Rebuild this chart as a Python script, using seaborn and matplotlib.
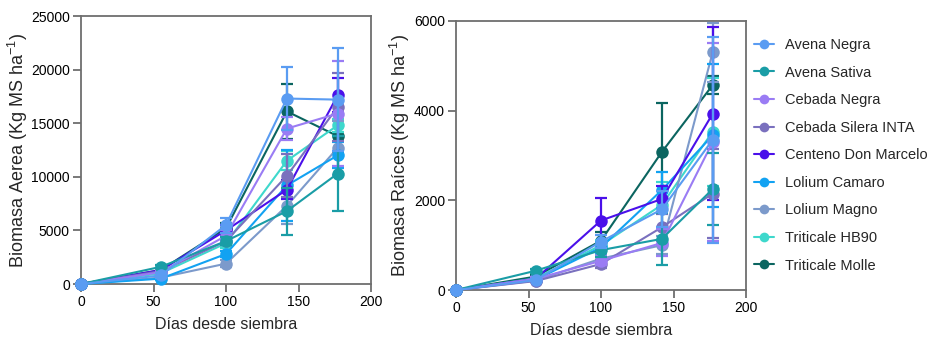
import numpy as np
import pandas as pd
import matplotlib
matplotlib.use("Agg")
import matplotlib.pyplot as plt
from matplotlib.lines import Line2D
import seaborn as sns

# ---------------- data ----------------
days = [0, 55, 100, 142, 177]

names = ["Avena Negra", "Avena Sativa", "Cebada Negra", "Cebada Silera INTA",
         "Centeno Don Marcelo", "Lolium Camaro", "Lolium Magno",
         "Triticale HB90", "Triticale Molle"]

colors = ["#5A9CF2", "#1A9DA6", "#9A7CF4", "#7A70BE", "#4A10EA",
          "#12A2F2", "#7C9ACB", "#3ED8CC", "#0B6560"]

# Biomasa aerea (Kg MS ha-1)
aerea = {
    "Avena Negra":         [0, 800, 5500, 17300, 17200],
    "Avena Sativa":        [0, 1600, 4000, 6800, 10300],
    "Cebada Negra":        [0, 1100, 4500, 14500, 15900],
    "Cebada Silera INTA":  [0, 1200, 4000, 10100, 16500],
    "Centeno Don Marcelo": [0, 1300, 5000, 8800, 17600],
    "Lolium Camaro":       [0, 500, 2800, 9200, 12000],
    "Lolium Magno":        [0, 600, 1900, 7300, 12700],
    "Triticale HB90":      [0, 1000, 3800, 11500, 14800],
    "Triticale Molle":     [0, 1300, 5200, 16100, 13800],
}
aerea_err = {
    "Avena Negra":         [0, 200, 700, 2900, 4800],
    "Avena Sativa":        [0, 150, 400, 2200, 3500],
    "Cebada Negra":        [0, 150, 500, 1100, 4900],
    "Cebada Silera INTA":  [0, 100, 400, 2000, 3200],
    "Centeno Don Marcelo": [0, 150, 500, 900, 1600],
    "Lolium Camaro":       [0, 100, 300, 3300, 1200],
    "Lolium Magno":        [0, 100, 300, 1700, 2500],
    "Triticale HB90":      [0, 100, 400, 900, 600],
    "Triticale Molle":     [0, 150, 500, 2600, 1500],
}

# Biomasa raices (Kg MS ha-1)
raices = {
    "Avena Negra":         [0, 220, 1080, 1800, 3350],
    "Avena Sativa":        [0, 430, 890, 1140, 2250],
    "Cebada Negra":        [0, 250, 650, 1050, 3300],
    "Cebada Silera INTA":  [0, 200, 580, 1400, 2150],
    "Centeno Don Marcelo": [0, 250, 1550, 2030, 3930],
    "Lolium Camaro":       [0, 230, 950, 2230, 3450],
    "Lolium Magno":        [0, 210, 700, 1000, 5300],
    "Triticale HB90":      [0, 260, 1000, 1900, 3530],
    "Triticale Molle":     [0, 300, 1100, 3080, 4570],
}
raices_err = {
    "Avena Negra":         [0, 30, 150, 400, 2300],
    "Avena Sativa":        [0, 40, 150, 580, 800],
    "Cebada Negra":        [0, 30, 100, 300, 2200],
    "Cebada Silera INTA":  [0, 30, 80, 300, 1000],
    "Centeno Don Marcelo": [0, 30, 510, 300, 1930],
    "Lolium Camaro":       [0, 30, 120, 400, 1600],
    "Lolium Magno":        [0, 30, 100, 200, 650],
    "Triticale HB90":      [0, 30, 120, 500, 1200],
    "Triticale Molle":     [0, 30, 200, 1090, 200],
}

xticks = [0, 50, 100, 150, 200]
yticks_aerea = [0, 5000, 10000, 15000, 20000, 25000]
yticks_raices = [0, 2000, 4000, 6000]

# ---------------- style ----------------
sns.set_theme(style="ticks")
plt.rcParams["font.family"] = ["Liberation Sans", "DejaVu Sans"]
plt.rcParams["mathtext.fontset"] = "custom"
plt.rcParams["mathtext.rm"] = "Liberation Sans"
plt.rcParams["mathtext.it"] = "Liberation Sans:italic"
spine_col = "#6E6E6E"

palette = dict(zip(names, colors))

fig = plt.figure(figsize=(9.41, 3.46), dpi=100)
ax1 = fig.add_axes([81 / 941, 62 / 346, 290 / 941, 268 / 346])
ax2 = fig.add_axes([456 / 941, 56 / 346, 290 / 941, 269 / 346])


def draw(ax, vals, errs, yticks, ylabel):
    for i, name in enumerate(reversed(names)):
        z = 2 + i
        df = pd.DataFrame({"dia": days, "valor": vals[name]})
        col = palette[name]
        ax.errorbar(days, vals[name], yerr=errs[name], fmt="none",
                    ecolor=col, elinewidth=1.6, capsize=4.5, capthick=1.6,
                    zorder=z)
        sns.lineplot(data=df, x="dia", y="valor", ax=ax, color=col,
                     marker="o", markersize=9, markeredgewidth=0,
                     linewidth=1.5, zorder=z, legend=False)
    ax.set_xlim(0, 200)
    ax.set_ylim(yticks[0], yticks[-1])
    ax.set_xticks(xticks)
    ax.set_yticks(yticks)
    ax.set_xlabel("Días desde siembra", fontsize=11.5, labelpad=6)
    ax.set_ylabel(ylabel, fontsize=13, labelpad=1)
    for s in ax.spines.values():
        s.set_color(spine_col)
        s.set_linewidth(1.3)
    ax.tick_params(axis="both", colors=spine_col, labelcolor="black",
                   labelsize=10, width=1.3, length=6, pad=2,
                   direction="out")
    for c in ax.collections:
        c.set_clip_on(False)
    for l in ax.lines:
        l.set_clip_on(False)


draw(ax1, aerea, aerea_err, yticks_aerea,
     r"Biomasa Aerea (Kg MS ha$^{\mathregular{-1}}$)")
draw(ax2, raices, raices_err, yticks_raices,
     r"Biomasa Raíces (Kg MS ha$^{\mathregular{-1}}$)")

handles = [Line2D([0], [0], color=palette[n], marker="o", markersize=7,
                  markeredgewidth=0, linewidth=1.5) for n in names]
fig.legend(handles, names, loc="upper left",
           bbox_to_anchor=(754 / 941, 1 - 38 / 346), frameon=False,
           fontsize=10.5, labelspacing=0.93, handlelength=1.4,
           handletextpad=0.7, borderpad=0, borderaxespad=0)

fig.savefig("out.png", dpi=100)
